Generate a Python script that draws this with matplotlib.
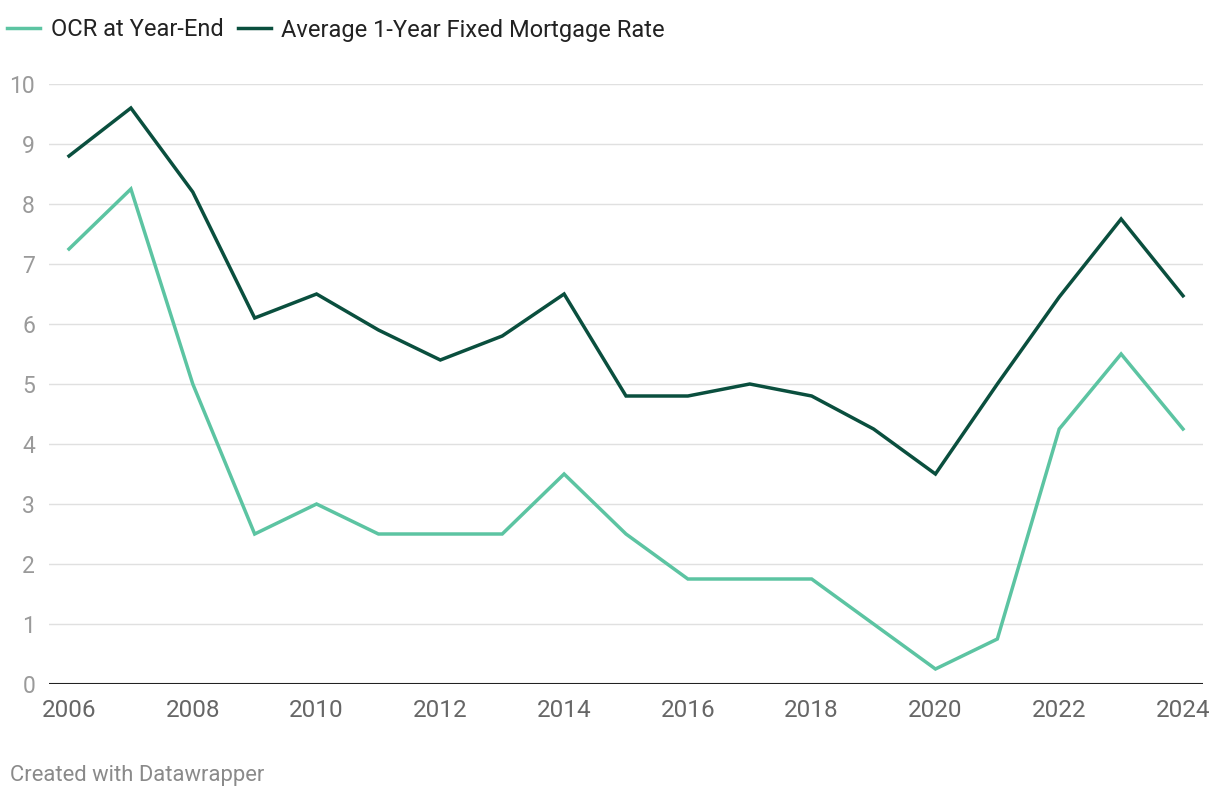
import matplotlib
matplotlib.use("Agg")
import matplotlib.pyplot as plt

years = list(range(2006, 2025))
ocr = [7.25, 8.25, 5.0, 2.5, 3.0, 2.5, 2.5, 2.5, 3.5, 2.5, 1.75, 1.75, 1.75, 1.0, 0.25, 0.75, 4.25, 5.5, 4.25]
mortgage = [8.8, 9.6, 8.2, 6.1, 6.5, 5.9, 5.4, 5.8, 6.5, 4.8, 4.8, 5.0, 4.8, 4.25, 3.5, 5.0, 6.45, 7.75, 6.47]
series_names = ["OCR at Year-End", "Average 1-Year Fixed Mortgage Rate"]
x_ticks = list(range(2006, 2025, 2))
y_ticks = list(range(0, 11))

plt.rcParams['font.family'] = ['Roboto', 'DejaVu Sans']

fig = plt.figure(figsize=(12.2, 8), dpi=100)
ax_left, ax_right = 49, 1203
ax = fig.add_axes([ax_left/1220, 1-684/800, (ax_right-ax_left)/1220, (684-84)/800])

c_light = "#5cc4a2"
c_dark = "#0a4f3e"

ax.plot(years, ocr, color=c_light, lw=2.5, label=series_names[0], solid_joinstyle='miter', zorder=3)
ax.plot(years, mortgage, color=c_dark, lw=2.5, label=series_names[1], solid_joinstyle='miter', zorder=3)

ppy = (1183-69)/18
ax.set_xlim(2006 - (69-ax_left)/ppy, 2024 + (ax_right-1183)/ppy)
ax.set_ylim(0, 10)
ax.set_yticks(y_ticks)
ax.set_xticks(x_ticks)
ax.set_xticklabels([str(x) for x in x_ticks])

for s in ax.spines.values():
    s.set_visible(False)
ax.grid(axis='y', color='#e0e0e0', lw=1, zorder=0)
ax.axhline(0, color='#222222', lw=1.5, zorder=2)
ax.tick_params(axis='both', length=0)
ax.tick_params(axis='y', labelsize=16.5, labelcolor='#9a9a9a', pad=10)
ax.tick_params(axis='x', labelsize=17.5, labelcolor='#666666', pad=11)
for lab in ax.get_yticklabels():
    lab.set_horizontalalignment('right')

fig.legend(loc='center left', bbox_to_anchor=(0.0, 1-30/800), frameon=False, ncol=2,
           handlelength=1.4, handletextpad=0.45, columnspacing=0.6, fontsize=17,
           labelcolor='#222222', borderaxespad=0, borderpad=0.3)

fig.text(10/1220, 1-776/800, "Created with Datawrapper", fontsize=15.8, color='#8a8a8a',
         ha='left', va='center')

fig.savefig("out.png", dpi=100, facecolor='white')
